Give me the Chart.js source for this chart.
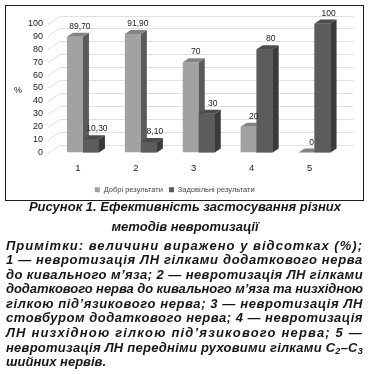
<!DOCTYPE html>
<html lang="uk">
<head>
<meta charset="utf-8">
<script src="https://cdn.jsdelivr.net/npm/chart.js@4.4.1/dist/chart.umd.min.js"></script>
<style>
  html, body { margin: 0; padding: 0; background: #fff; }
  body { width: 370px; height: 374px; position: relative; overflow: hidden; font-family: 'Liberation Sans', Arial, sans-serif; }
  #box { position: absolute; left: 5px; top: 5px; width: 359px; height: 196px; border: 1.5px solid #1c1c1c; box-sizing: border-box; }
  #box canvas { position: absolute; left: 0; top: 0; }
  #pct { position: absolute; left: 14px; top: 85px; font: 9px 'Liberation Sans', sans-serif; color: #222; }
  #caption { position: absolute; left: 0; top: 197px; width: 370px; text-align: center; font: italic bold 13px/20px 'Liberation Sans', Arial, sans-serif; color: #161616; }
  #notes { position: absolute; left: 6px; top: 238.5px; width: 357px; font: italic bold 13px/14.6px 'Liberation Sans', Arial, sans-serif; color: #161616; }
  #notes .ln { display: inline-block; white-space: nowrap; }
  #notes sub { font-size: 9px; line-height: 0; vertical-align: -2px; }
</style>
</head>
<body>
<div id="box"><canvas id="chart" width="356" height="193"></canvas></div>
<div id="pct">%</div>
<div id="caption">Рисунок 1. Ефективність застосування різних<br>методів невротизації</div>
<div id="notes">
  <div><span class="ln">Примітки: величини виражено у відсотках (%);</span></div>
  <div><span class="ln">1 — невротизація ЛН гілками додаткового нерва</span></div>
  <div><span class="ln">до кивального м’яза; 2 — невротизація ЛН гілками</span></div>
  <div><span class="ln">додаткового нерва до кивального м’яза та низхідною</span></div>
  <div><span class="ln">гілкою під’язикового нерва; 3 — невротизація ЛН</span></div>
  <div><span class="ln">стовбуром додаткового нерва; 4 — невротизація</span></div>
  <div><span class="ln">ЛН низхідною гілкою під’язикового нерва; 5 —</span></div>
  <div><span class="ln">невротизація ЛН передніми руховими гілками C<sub>2</sub>–C<sub>3</sub></span></div>
  <div><span>шийних нервів.</span></div>
</div>
<script>
const categories = ['1', '2', '3', '4', '5'];
const seriesNames = ['Добрі результати', 'Задовільні результати'];
const goodValues = [89.7, 91.9, 70, 20, 0];
const satisfactoryValues = [10.3, 8.1, 30, 80, 100];
const yMin = 0;
const yMax = 100;
const yStep = 10;

const DX = 6, DY = 4;
const LIGHT = { front: '#a2a2a2', top: '#838383', side: '#5a5a5a' };
const DARK = { front: '#5c5c5c', top: '#4c4c4c', side: '#3a3a3a' };
const FONT = "'Liberation Sans', Arial, sans-serif";

// fit the note lines to the column width, like the justified print
document.querySelectorAll('#notes .ln').forEach(function (el) {
    const w = el.getBoundingClientRect().width;
    const n = el.textContent.length;
    el.style.letterSpacing = ((357 - w) / n) + 'px';
});

function fmt(v) {
    return Number.isInteger(v) ? String(v) : v.toFixed(2).replace('.', ',');
}

function poly(ctx, pts, fill) {
    ctx.fillStyle = fill;
    ctx.beginPath();
    ctx.moveTo(pts[0][0], pts[0][1]);
    for (let i = 1; i < pts.length; i++) ctx.lineTo(pts[i][0], pts[i][1]);
    ctx.closePath();
    ctx.fill();
}

const depthPlugin = {
    id: 'depth',
    beforeDatasetsDraw(chart) {
        const ctx = chart.ctx, area = chart.chartArea, y = chart.scales.y;
        ctx.save();
        ctx.strokeStyle = '#d8d8d8';
        ctx.lineWidth = 0.8;
        for (let v = yMin; v <= yMax; v += yStep) {
            const py = Math.round(y.getPixelForValue(v)) + 0.5;
            ctx.beginPath();
            ctx.moveTo(area.left - 6, py);
            ctx.lineTo(area.left + 6, py - 8);
            ctx.lineTo(area.right + 10, py - 8);
            ctx.stroke();
        }
        ctx.restore();
    },
    afterDatasetsDraw(chart) {
        const ctx = chart.ctx;
        const faces = [LIGHT, DARK];
        ctx.save();
        chart.data.datasets.forEach(function (ds, i) {
            const c = faces[i];
            chart.getDatasetMeta(i).data.forEach(function (bar) {
                const p = bar.getProps(['x', 'y', 'base', 'width'], true);
                const l = p.x - p.width / 2, r = p.x + p.width / 2;
                if (i > 0) {
                    ctx.fillStyle = c.front;
                    ctx.fillRect(l, p.y, p.width, p.base - p.y);
                }
                poly(ctx, [[r, p.y], [r + DX, p.y - DY], [r + DX, p.base - DY], [r, p.base]], c.side);
                poly(ctx, [[l, p.y], [l + DX, p.y - DY], [r + DX, p.y - DY], [r, p.y]], c.top);
            });
        });
        ctx.fillStyle = '#222';
        ctx.font = '8.5px ' + FONT;
        ctx.textAlign = 'center';
        ctx.textBaseline = 'bottom';
        chart.data.datasets.forEach(function (ds, i) {
            chart.getDatasetMeta(i).data.forEach(function (bar, j) {
                const p = bar.getProps(['x', 'y'], true);
                ctx.fillText(fmt(ds.data[j]), p.x + DX / 2 + 2 + i, p.y - DY - 2);
            });
        });
        ctx.restore();
    }
};

// legend box is font + padding + 10 tall in Chart.js, x axis gets the rest
const legendFont = 7.5;
const legendPad = 6;
const xAxisHeight = 46.5 + 4.5 - (legendFont + legendPad + 10);

new Chart(document.getElementById('chart'), {
    type: 'bar',
    data: {
        labels: categories,
        datasets: [
            { label: seriesNames[0], data: goodValues, backgroundColor: LIGHT.front },
            { label: seriesNames[1], data: satisfactoryValues, backgroundColor: DARK.front }
        ]
    },
    options: {
        responsive: false,
        animation: false,
        layout: { padding: { left: 0, right: 18.5, top: 17.5, bottom: -4.5 } },
        datasets: { bar: { categoryPercentage: 0.553, barPercentage: 1 } },
        scales: {
            x: {
                grid: { display: false, drawTicks: false },
                border: { display: false },
                ticks: { font: { size: 9.5, family: FONT }, color: '#222', padding: 10, labelOffset: -5 },
                afterFit: function (s) { s.height = xAxisHeight; }
            },
            y: {
                min: yMin,
                max: yMax,
                grid: { display: false, drawTicks: false },
                border: { display: false },
                ticks: { stepSize: yStep, autoSkip: false, font: { size: 9, family: FONT }, color: '#222', padding: 11 },
                afterFit: function (s) { s.width = 48; }
            }
        },
        plugins: {
            legend: {
                position: 'bottom',
                labels: { boxWidth: 5, boxHeight: 5, padding: legendPad, color: '#444', font: { size: legendFont, family: FONT } }
            },
            tooltip: { enabled: false }
        }
    },
    plugins: [depthPlugin]
});
</script>
</body>
</html>
